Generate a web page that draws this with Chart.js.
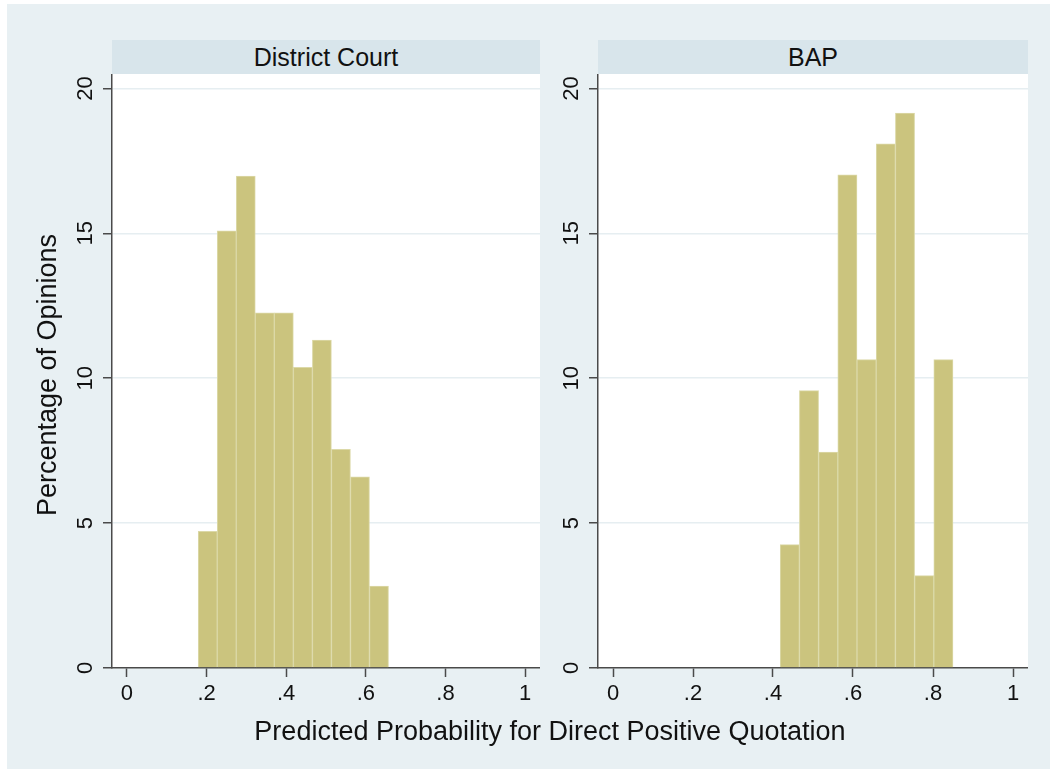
<!doctype html>
<html lang="en">
<head>
  <meta charset="utf-8">
  <title>Predicted Probability for Direct Positive Quotation</title>
  <script src="https://cdn.jsdelivr.net/npm/chart.js"></script>
  <style>
    body { margin: 0; background: #fff; font-family: "Liberation Sans", Arial, sans-serif; }
    #bg { position: absolute; left: 7px; top: 4px; width: 1043px; height: 765px; background: #e8f0f3; }
    .strip {
      position: absolute;
      top: 40px;
      height: 34px;
      line-height: 34px;
      background: #d8e5eb;
      text-align: center;
      font-size: 25px;
      color: #111;
    }
    canvas { position: absolute; }
    .title { position: absolute; height: 34px; line-height: 34px; text-align: center; font-size: 27px; color: #111; white-space: nowrap; }
    #ytitle { left: -153px; top: 358px; width: 400px; transform: rotate(-90deg); }
    #xtitle { left: 200px; top: 714px; width: 700px; }
  </style>
</head>
<body>
  <div id="bg"></div>
  <div class="strip" style="left:112px; width:428px;">District Court</div>
  <div class="strip" style="left:598px; width:430px;">BAP</div>
  <canvas id="court" width="500" height="660" style="left:40px; top:74px;"></canvas>
  <canvas id="bap" width="502" height="660" style="left:526px; top:74px;"></canvas>
  <div class="title" id="ytitle">Percentage of Opinions</div>
  <div class="title" id="xtitle">Predicted Probability for Direct Positive Quotation</div>

  <script>
    // bin midpoints and percentages
    const courtBins = [0.2029, 0.2507, 0.2985, 0.3463, 0.3941, 0.4419, 0.4897, 0.5375, 0.5853, 0.6331];
    const courtPct  = [4.72, 15.09, 16.98, 12.26, 12.26, 10.38, 11.32, 7.55, 6.60, 2.83];
    const bapBins = [0.442, 0.490, 0.538, 0.586, 0.634, 0.682, 0.730, 0.778, 0.826];
    const bapPct  = [4.26, 9.57, 7.45, 17.02, 10.64, 18.09, 19.15, 3.19, 10.64];
    const xTicks = [0, 0.2, 0.4, 0.6, 0.8, 1];
    const xTickLabels = ['0', '.2', '.4', '.6', '.8', '1'];
    const yTicks = [0, 5, 10, 15, 20];

    const axisColor = '#4a4a4a';
    const gridColor = '#e6eef1';
    const font = { family: '"Liberation Sans", Arial, sans-serif', size: 22 };

    const plotBg = {
      id: 'plotBg',
      beforeDraw(chart) {
        const a = chart.chartArea;
        chart.ctx.save();
        chart.ctx.fillStyle = '#fff';
        chart.ctx.fillRect(a.left, a.top, a.right - a.left, a.bottom - a.top);
        chart.ctx.restore();
      }
    };

    function histo(id, bins, pct) {
      new Chart(document.getElementById(id), {
        type: 'bar',
        data: {
          datasets: [{
            data: bins.map((b, i) => ({ x: b, y: pct[i] })),
            backgroundColor: '#cbc47e',
            borderColor: '#dcd9a8',
            borderWidth: 1,
            barPercentage: 1,
            categoryPercentage: 1
          }]
        },
        options: {
          responsive: false,
          animation: false,
          layout: { padding: 0 },
          plugins: { legend: { display: false }, tooltip: { enabled: false } },
          scales: {
            x: {
              type: 'linear',
              min: -0.0375,
              max: 1.0375,
              offset: false,
              afterBuildTicks: s => { s.ticks = xTicks.map(v => ({ value: v })); },
              afterFit: s => { s.height = 66; s.paddingLeft = 0; s.paddingRight = 0; },
              grid: { drawOnChartArea: false, offset: false, tickLength: 9, tickColor: axisColor, tickWidth: 1.5 },
              border: { color: axisColor, width: 1.5 },
              ticks: {
                font, color: '#111', padding: 4, autoSkip: false, minRotation: 0, maxRotation: 0,
                callback: (v, i) => xTickLabels[i]
              }
            },
            y: {
              min: 0,
              max: 20.5,
              afterBuildTicks: s => { s.ticks = yTicks.map(v => ({ value: v })); },
              afterFit: s => { s.width = 72; s.paddingTop = 0; s.paddingBottom = 0; },
              grid: {
                color: c => (c.tick && c.tick.value === 0 ? 'rgba(0,0,0,0)' : gridColor),
                lineWidth: 1.5, tickLength: 9, tickColor: axisColor, tickWidth: 1.5
              },
              border: { color: axisColor, width: 1.5 },
              ticks: {
                font, color: '#111', padding: 5, minRotation: 90, maxRotation: 90, crossAlign: 'center',
                callback: v => String(v)
              }
            }
          }
        },
        plugins: [plotBg]
      });
    }

    histo('court', courtBins, courtPct);
    histo('bap', bapBins, bapPct);
  </script>
</body>
</html>
